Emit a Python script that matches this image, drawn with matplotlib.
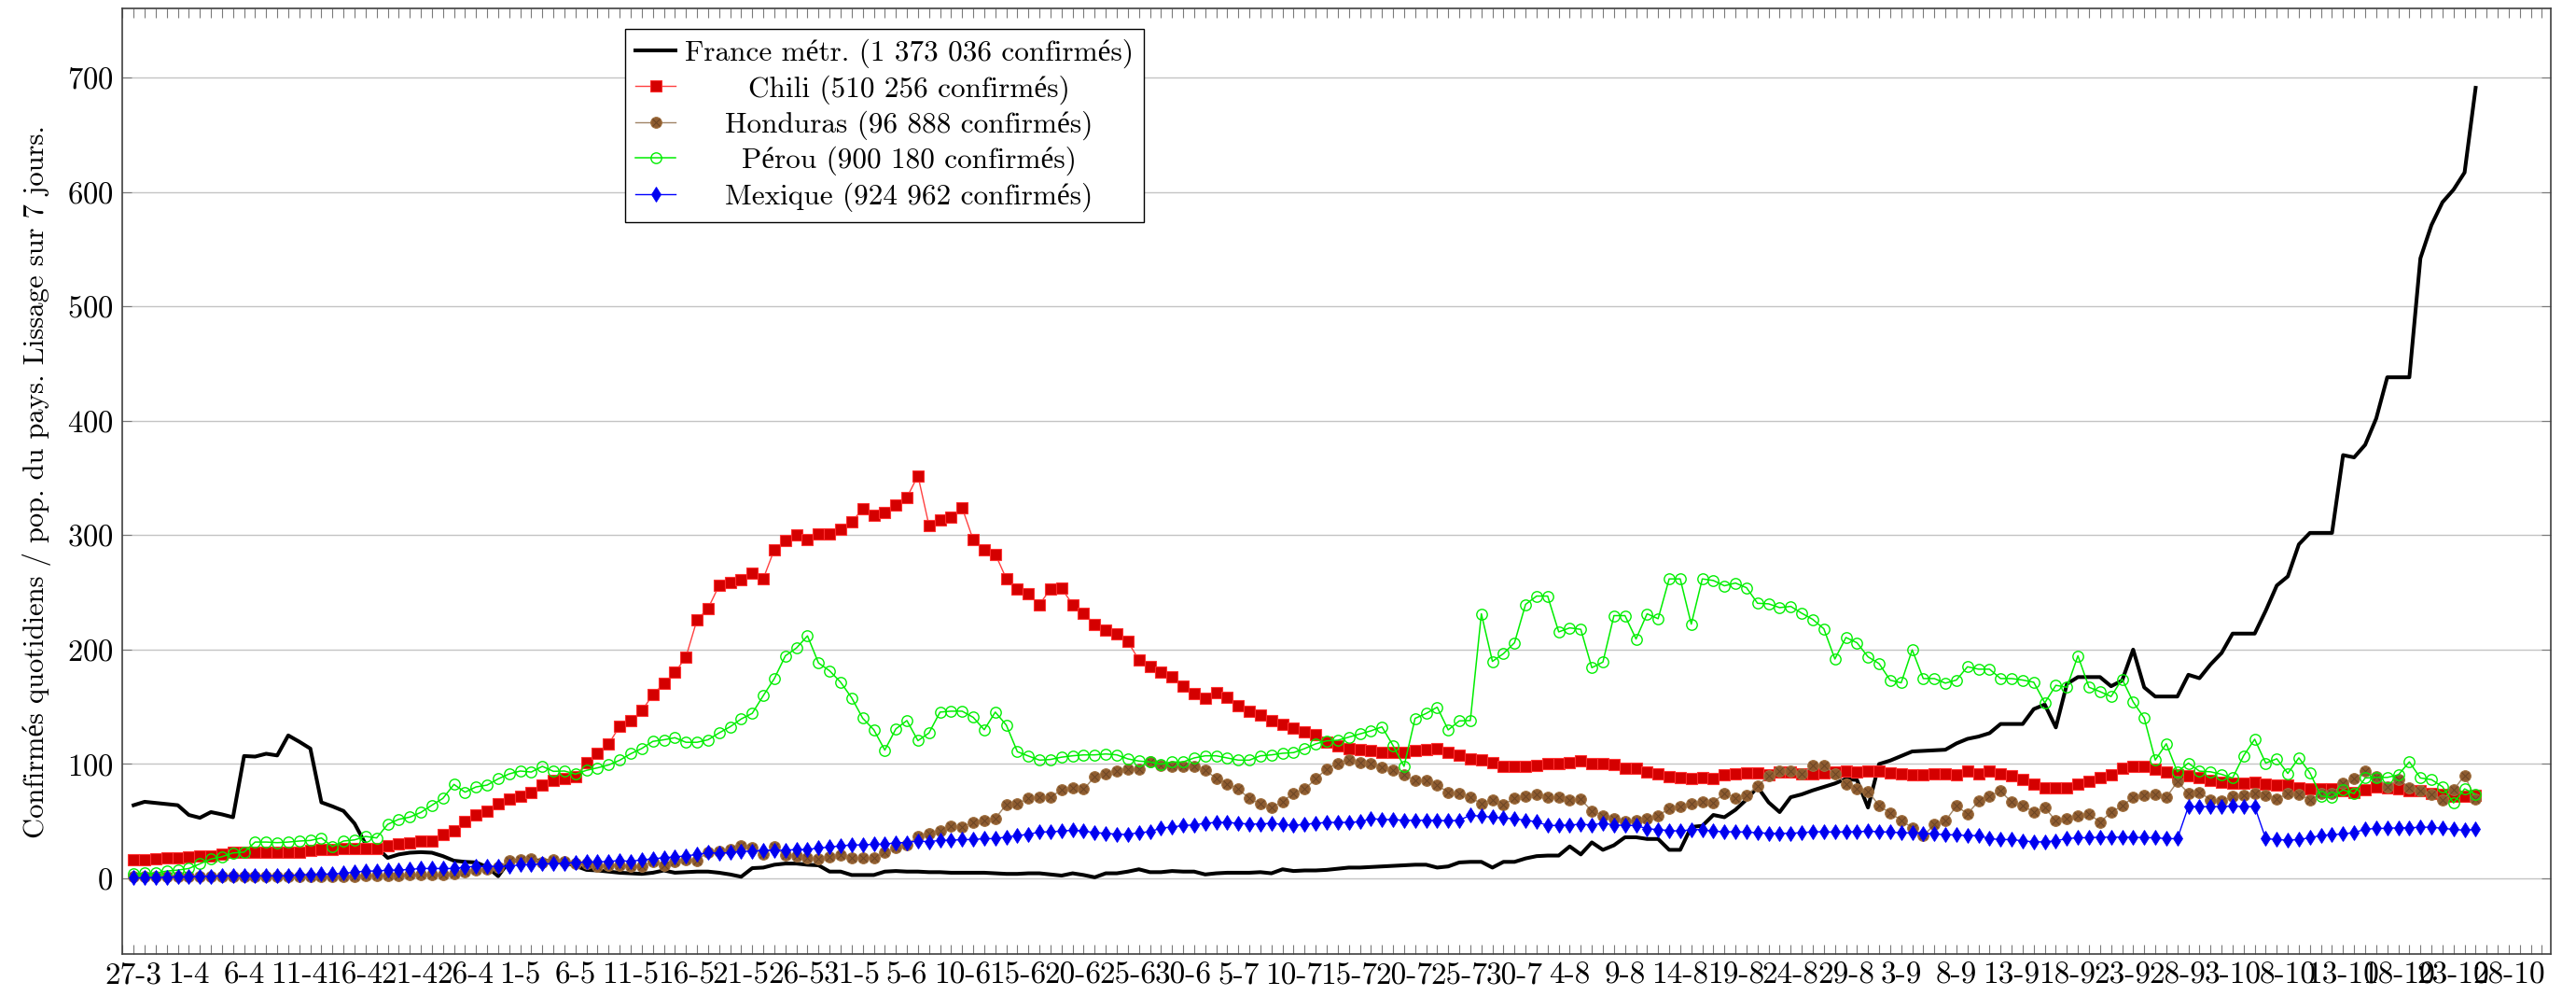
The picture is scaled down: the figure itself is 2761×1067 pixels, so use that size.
import matplotlib
matplotlib.use("Agg")
import matplotlib.pyplot as plt
import matplotlib.transforms as mtransforms
from matplotlib.ticker import MultipleLocator, FixedLocator

plt.rcParams['font.family'] = ['cmr10', 'Liberation Serif']
plt.rcParams['axes.formatter.use_mathtext'] = True
plt.rcParams['axes.unicode_minus'] = False

# daily values, day 0 = 27-3, last day = 25-10
france = [
    64, 67, 66, 65, 64, 55.5, 53, 58, 56, 53.5,
    107, 106.5, 109, 107.5, 125, 119.5, 113.5, 66.5, 63, 59,
    48, 30, 27, 18, 21, 22.5, 23, 22.5, 19.5, 15.5,
    14.5, 14, 10, 2, 15, 16, 16, 15.5, 15, 14,
    11, 7.5, 7, 6, 5, 4.5, 4, 5, 7, 5,
    5.5, 6, 6, 5, 3.5, 1.5, 9, 9.5, 12, 13,
    13, 12, 11.5, 6, 6, 3, 3, 3, 6, 6.5,
    6, 6, 5.5, 5.5, 5, 5, 5, 5, 4.5, 4,
    4, 4.5, 4.5, 3.5, 2.5, 4.5, 3, 1, 4.5, 4.5,
    6, 8, 5.5, 5.5, 6.5, 6, 6, 3.5, 4.5, 5,
    5, 5, 5.5, 4.5, 8, 6.5, 7, 7, 7.5, 8.5,
    9.5, 9.5, 10, 10.5, 11, 11.5, 12, 12, 9.5, 10.5,
    14, 14.5, 14.5, 9.5, 14.5, 14.5, 17.5, 19.5, 20, 20,
    28, 21, 31.5, 25, 29, 36, 36, 34.5, 34.5, 25,
    25, 45, 46, 55.5, 53.5, 60, 69, 80, 66.5, 58,
    71, 73.5, 77, 80, 83, 87, 86, 62, 100, 103,
    107, 111, 111.5, 112, 112.5, 118, 122, 124, 127, 135,
    135, 135, 148, 152, 132, 170, 176, 176, 176, 168,
    173, 200, 167, 159, 159, 159, 178, 175, 187, 197,
    214, 214, 214, 234, 256, 264, 292, 302, 302, 302,
    370, 368, 379, 402, 438, 438, 438, 542, 571, 591,
    602, 617, 691,
]
chili = [
    16, 16.5, 17.5, 18, 18, 18.5, 19.5, 20, 21, 23,
    23, 22.5, 23, 22.5, 23, 22.5, 24.5, 25, 25.5, 26,
    26, 26, 26.5, 29, 30.5, 31, 32.5, 33, 38, 41.5,
    49.5, 55.5, 59, 65, 69, 72, 75, 82, 85.5, 87,
    89, 101, 109.5, 117.5, 133, 138, 146.5, 160.5, 170.5, 180,
    193.5, 226, 236, 256, 259, 261, 266.5, 262, 287.5, 295.5,
    300, 296.5, 301, 301, 305.5, 311.5, 323, 317.5, 320, 326,
    333, 352, 308.5, 313, 316, 324, 296, 287.5, 283.5, 262,
    253, 248.5, 239.5, 253, 253.5, 239.5, 232, 222, 217, 213.5,
    207, 191, 185, 180, 176, 168.5, 161.5, 157.5, 162.5, 158.5,
    151, 146, 142.5, 138, 135, 131, 128, 125.5, 119.5, 115.5,
    113.5, 113, 112, 110.5, 110, 110.5, 111.5, 113, 113.5, 110,
    107.5, 104.8, 104, 101, 98, 98, 98, 98.5, 100, 100,
    101, 102.5, 100.5, 100, 99.5, 96.5, 96.5, 93, 91.5, 89,
    88, 87, 88.5, 87.5, 91, 91.5, 92.5, 92, 91, 93,
    93, 91.5, 91.5, 92, 93, 93.5, 93, 93.5, 93.5, 92.5,
    91.5, 91, 90.5, 91.3, 91.3, 90.5, 93.8, 91.8, 93.8, 91.8,
    90, 86.4, 82.3, 79, 79.6, 78.8, 82.3, 85, 87.8, 91,
    96, 98, 98, 95.4, 93.2, 91, 90, 88.3, 85.6, 83.7,
    82.9, 82.9, 83.7, 82.3, 81.8, 81.8, 79.6, 78.3, 78.3, 78.3,
    77, 75.5, 77.4, 80.2, 79.6, 78.3, 77, 76.4, 74.2, 73.6,
    72, 71.5, 72.8,
]
honduras = [
    1.5, 1.5, 1.5, 1.5, 1.5, 1.5, 1.5, 1.5, 1.5, 1.5,
    1.5, 1.5, 1.5, 1.5, 1.5, 1.5, 1.5, 1.5, 1.5, 2,
    2, 2.5, 2.5, 2.5, 2.5, 3, 3, 3, 3, 4.5,
    6, 7, 8, 10, 15.5, 16, 17.5, 14, 16, 14.5,
    13, 13, 10.3, 11.7, 11.7, 10.3, 10.9, 14.4, 11.7, 14.4,
    16.6, 15.8, 23, 24, 25.3, 28.5, 26.6, 21.2, 27.4, 20.4,
    19.3, 17.7, 17.1, 18.5, 20.4, 17.7, 17.7, 17.7, 23, 26.6,
    29.3, 36.7, 38.9, 42, 45.7, 44.8, 49.2, 51, 52.4, 64.7,
    65.3, 70, 71.3, 71.3, 77.3, 79, 78, 89, 91.7, 93.9,
    95.2, 95.8, 101.8, 99, 98, 98, 98, 94.4, 87.6, 82.7,
    78, 70, 65, 61.8, 67.2, 74.6, 78, 87, 95.8, 100.7,
    104, 101.2, 100.4, 97, 94.4, 90.9, 85.4, 85.4, 81.4, 75.4,
    74.3, 71, 65.3, 68.6, 64.5, 70, 71.8, 73.2, 71.3, 71.3,
    68.6, 69.1, 59, 55, 52.2, 50, 50.9, 52.2, 55, 61,
    63.1, 65.3, 66.7, 66.4, 74.6, 70.5, 72.7, 80.8, 89.8, 93.9,
    93.9, 91.7, 98.5, 98.5, 91.7, 82.7, 78, 76.2, 63.7, 57.1,
    51, 44.2, 37.3, 47, 50.3, 63.3, 56.5, 67.4, 72, 76.4,
    66.6, 63.9, 57.9, 62, 50.3, 51.9, 54.6, 56.5, 49.2, 57.9,
    63.3, 70.9, 72.8, 73.6, 70.9, 84.5, 74.7, 75.5, 68.8, 67.4,
    71.5, 72.8, 74.2, 72.8, 69.3, 74.2, 73.6, 68.8, 74.2, 74,
    82.9, 87, 93.8, 89, 80.2, 86.4, 79.6, 76.9, 73.6, 68.8,
    77.4, 90, 69.3,
]
perou = [
    3.8, 4.6, 4.6, 6.5, 7.3, 8.7, 12.8, 16.9, 19, 22.3,
    23, 31.8, 31.8, 31.3, 31.8, 32.7, 33.2, 35.4, 27.8, 32.7,
    33.7, 36.7, 35.4, 47.3, 51.7, 53.6, 57.7, 64, 70, 82.2,
    75.4, 80, 81.6, 87, 91.4, 93.9, 93, 98, 93.6, 93.9,
    91.2, 94.5, 96.7, 99.2, 103.3, 109, 113.6, 119.8, 121.2, 123,
    119, 119, 121.2, 127.2, 132.6, 139.4, 144.3, 159.8, 174.7, 194.6,
    201.4, 212, 188.3, 181.5, 171.5, 157.9, 140, 130, 112.2, 130.7,
    138, 120.4, 127.2, 145.4, 146.2, 146.2, 140.8, 130, 145.4, 134,
    110.8, 107, 103.4, 104, 106, 107.2, 108, 108, 108.8, 108,
    104.5, 102.6, 101.8, 99.9, 101.8, 101.8, 105.3, 107.2, 107.2, 105.3,
    103.4, 103.4, 107.2, 108, 109.4, 110, 113.5, 117.6, 120.3, 120.8,
    123.5, 126.3, 129, 132.5, 116.2, 98, 139.9, 144.2, 149.7, 129.8,
    137.7, 138, 231.3, 189.7, 196.5, 206, 239.5, 246.8, 246.8, 215.5,
    219, 217.7, 184.2, 189.1, 229.7, 229.7, 209.3, 231.3, 227, 261.8,
    261.8, 222.3, 261.8, 260.4, 255.8, 258.2, 254.1, 240.5, 240, 236.7,
    237.8, 231.8, 226.4, 218.2, 191.8, 210.6, 206, 193.7, 187.8, 173.3,
    171, 199.8, 174.7, 174.7, 170.7, 173.4, 185, 182.9, 182.9, 174.7,
    174.7, 173.4, 171.5, 153.5, 168.8, 167.1, 194.6, 167.1, 163.3, 159,
    174.2, 154.3, 140.2, 103.5, 117.7, 93.2, 100.8, 93.8, 93.2, 91,
    87.8, 107.3, 121.7, 100.8, 104.6, 91.8, 105.4, 92.4, 72, 70.9,
    77.4, 74.2, 87.8, 88.3, 88.3, 90.5, 101.9, 87.8, 86.4, 80.2,
    66, 78.3, 73.6,
]
mexique = [
    0.5, 0.5, 1, 1, 1.4, 1.4, 2, 2, 2.4, 2.4,
    2.4, 2.4, 2.4, 2.4, 2.4, 3.3, 3.3, 3.8, 3.8, 4.6,
    5.4, 6.5, 6.5, 7.3, 7.3, 7.9, 8.7, 8.7, 8.7, 8.7,
    10, 10.6, 10.6, 10.6, 10.6, 12, 12, 12.8, 12.8, 13.3,
    14, 14.4, 14.4, 15, 15.5, 15, 16.3, 17.1, 18.2, 18.8,
    19.8, 20.9, 22.6, 22, 22.6, 23.6, 23.9, 24.7, 24.7, 24.7,
    25.3, 25.3, 26.6, 27.4, 28.5, 29.3, 29.3, 29.9, 29.9, 31.3,
    31.3, 32.9, 32, 33.4, 33.4, 34, 34, 34.8, 34.8, 36.3,
    37.4, 38.7, 40.5, 40.8, 41.4, 42.2, 41.4, 40, 39.5, 38.6,
    38.6, 40, 40.8, 44.1, 44.9, 46.3, 46.8, 48.2, 49, 49,
    48.2, 47.6, 47.6, 48.2, 47.3, 46.3, 47.3, 48.2, 49, 49,
    49, 49.5, 52.2, 51.7, 51.4, 50.9, 50.9, 50.9, 50.9, 50.3,
    50.9, 55.2, 54.4, 53.6, 52.8, 52.2, 50.9, 49.5, 46.3, 46.3,
    46.8, 47.3, 46.8, 48.2, 46.8, 46.3, 46.3, 43.5, 42.7, 41.9,
    41.4, 42.7, 42.7, 41.4, 40.8, 40.8, 40.5, 40, 39.5, 39.5,
    39.5, 40, 40.8, 40.8, 40.5, 40.8, 40.8, 41.4, 40.8, 40.5,
    40, 39.8, 39.6, 38.9, 38.3, 38, 37.5, 37.5, 34.8, 34,
    34, 32.9, 32, 32, 32.9, 34.8, 35.6, 35.6, 36.1, 36.1,
    36.1, 36.1, 35.6, 35.6, 34.8, 34.8, 62.8, 62.8, 62.8, 62.8,
    63.3, 62.8, 62.8, 34.8, 34, 33.4, 34, 35.6, 37.5, 38.3,
    38.9, 40.2, 42.9, 43.8, 43.8, 44.3, 44.3, 44.8, 44.8, 43.8,
    42.9, 42.1, 42.9,
]
days = list(range(len(france)))

tick_days = list(range(0, 216, 5))
tick_labels = ["27-3", "1-4", "6-4", "11-4", "16-4", "21-4", "26-4", "1-5", "6-5", "11-5",
               "16-5", "21-5", "26-5", "31-5", "5-6", "10-6", "15-6", "20-6", "25-6", "30-6",
               "5-7", "10-7", "15-7", "20-7", "25-7", "30-7", "4-8", "9-8", "14-8", "19-8",
               "24-8", "29-8", "3-9", "8-9", "13-9", "18-9", "23-9", "28-9", "3-10", "8-10",
               "13-10", "18-10", "23-10", "28-10"]

fig = plt.figure(figsize=(27.61, 10.67), dpi=100)
ax = fig.add_axes([0.0474, 0.0422, 0.9428, 0.9489])

l_fr, = ax.plot(days, france, color="black", lw=2.9, zorder=3)
l_ch, = ax.plot(days, chili, color="#ff4040", lw=1.0, marker="s", ms=8.4,
                mfc="#d40000", mec="#ff3030", mew=0.8, zorder=4)
l_ho, = ax.plot(days, honduras, color="#a08466", lw=1.0, marker="o", ms=8.4,
                mfc="#8e5c30", mec="#a0703f", mew=0.8, zorder=5)
l_hx, = ax.plot(days, honduras, ls="none", marker="x", ms=5.6, mec="#6a4424",
                mew=0.7, zorder=5)
l_pe, = ax.plot(days, perou, color="#00ee00", lw=1.1, marker="o", ms=8.2,
                mfc="none", mec="#00ee00", mew=1.0, zorder=6)
l_mx, = ax.plot(days, mexique, color="#0000ff", lw=1.0, marker="d", ms=8.0,
                mfc="#0000ee", mec="#0000ff", mew=0.6, zorder=7)

ax.set_xlim(-1.04, 218.8)
ax.set_ylim(-66, 760)
ax.yaxis.set_major_locator(FixedLocator(range(0, 701, 100)))
ax.xaxis.set_major_locator(FixedLocator(tick_days))
ax.set_xticklabels(tick_labels)
ax.xaxis.set_minor_locator(MultipleLocator(1))
ax.grid(axis="y", color="#c4c4c4", lw=1.0)
ax.set_axisbelow(True)

ax.tick_params(axis="both", which="both", direction="in", color="#7a7a7a", width=0.8)
ax.tick_params(axis="x", which="both", top=True, length=7, labelsize=24, pad=6)
ax.tick_params(axis="y", which="major", right=True, length=7, labelsize=23.5, pad=7)
for s in ax.spines.values():
    s.set_color("#404040")
    s.set_linewidth(1.2)

ax.set_ylabel("Confirmés quotidiens / pop. du pays. Lissage sur 7 jours.", fontsize=22, labelpad=12)

leg = ax.legend([l_fr, l_ch, (l_ho, l_hx), l_pe, l_mx],
                ["France métr. (1 373 036 confirmés)",
                 "Chili (510 256 confirmés)",
                 "Honduras (96 888 confirmés)",
                 "Pérou (900 180 confirmés)",
                 "Mexique (924 962 confirmés)"],
                loc="upper left", bbox_to_anchor=(0.207, 0.979), fontsize=22.5,
                frameon=True, fancybox=False, edgecolor="black", framealpha=1,
                handlelength=1.4, handletextpad=0.3, labelspacing=0.22,
                borderpad=0.35, borderaxespad=0)
leg.get_frame().set_linewidth(1.0)

# centre the legend texts like pgfplots does
fig.canvas.draw()
r = fig.canvas.get_renderer()
texts = leg.get_texts()
widths = [t.get_window_extent(r).width for t in texts]
wmax = max(widths)
for t, w in zip(texts, widths):
    t.set_transform(t.get_transform() + mtransforms.Affine2D().translate((wmax - w) / 2, 0))

fig.savefig("out.png", dpi=100)
